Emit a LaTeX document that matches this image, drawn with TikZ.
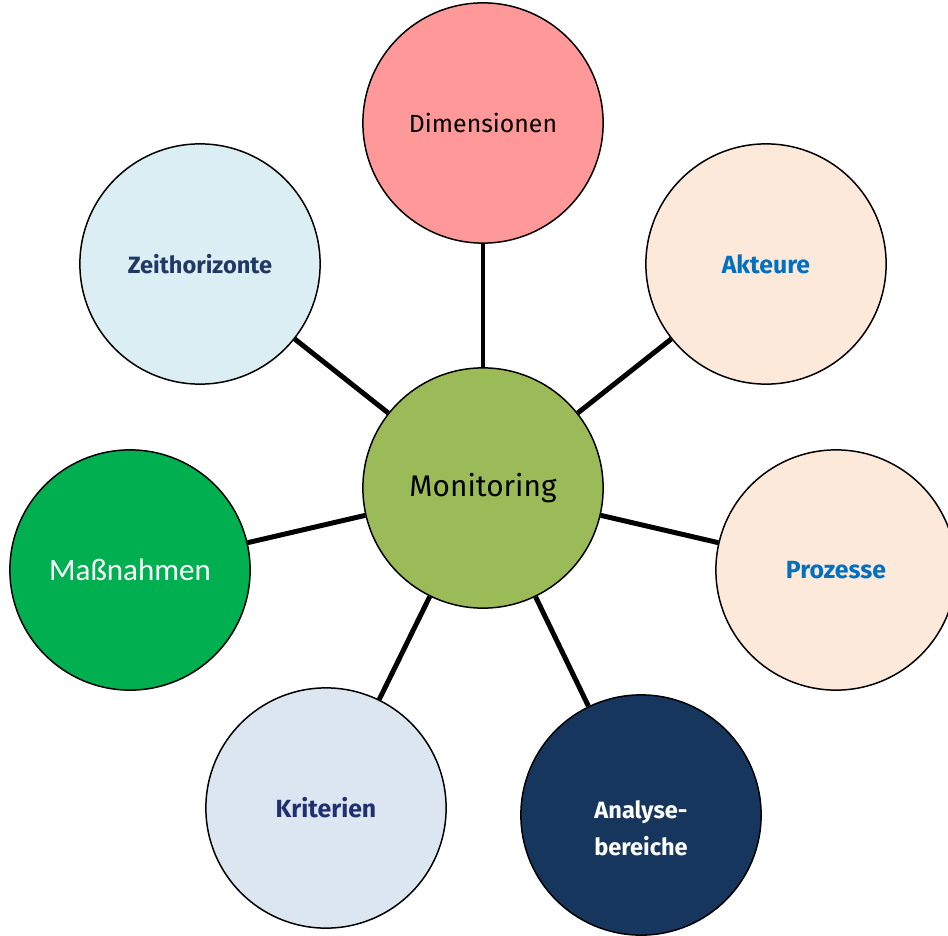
\documentclass[tikz,border=0pt]{standalone}
\usepackage{fontspec}
\setmainfont{Fira Sans}
\newfontfamily\calfont{Carlito}
\usepackage{tikz}

\definecolor{dimred}{HTML}{FF9999}
\definecolor{peach}{HTML}{FCE9DA}
\definecolor{akblue}{HTML}{0070C0}
\definecolor{navy}{HTML}{17365D}
\definecolor{krfill}{HTML}{DCE6F1}
\definecolor{krtext}{HTML}{1F3070}
\definecolor{zhfill}{HTML}{DAEEF3}
\definecolor{zhtext}{HTML}{1F3864}
\definecolor{mgreen}{HTML}{00B050}
\definecolor{olive}{HTML}{9BBB59}

\tikzset{
  topic/.style={circle, draw=black, line width=1.2pt, minimum size=6.8cm, inner sep=0pt, align=center, font=\fontsize{20}{24}\selectfont},
  spoke/.style={line width=4pt}
}

\begin{document}
\begin{tikzpicture}[x=0.0283cm, y=-0.0283cm]
        \useasboundingbox (0,0) rectangle (948,935);
        \node[topic, fill=olive, font=\fontsize{24}{28}\selectfont] (mon) at (483,488) {Monitoring};
        \node[topic, fill=dimred] (dim) at (483,123) {Dimensionen};
        \node[topic, fill=peach, text=akblue, font=\fontsize{20}{24}\selectfont\bfseries] (akt) at (766,264) {Akteure};
        \node[topic, fill=peach, text=akblue, font=\fontsize{20}{24}\selectfont\bfseries] (pro) at (836,570) {Prozesse};
        \node[topic, fill=navy, text=white, font=\fontsize{19}{30}\selectfont\bfseries] (ana) at (641,815) {\mbox{}\\[6pt]Analyse-\\bereiche};
        \node[topic, fill=krfill, text=krtext, font=\fontsize{20}{24}\selectfont\bfseries] (kri) at (326,808) {Kriterien};
        \node[topic, fill=mgreen, text=white, font=\fontsize{25}{30}\calfont] (mas) at (130,570) {Maßnahmen};
        \node[topic, fill=zhfill, text=zhtext, font=\fontsize{19}{24}\selectfont\bfseries] (zei) at (200,264) {Zeithorizonte};
        \foreach \n in {dim,akt,pro,ana,kri,mas,zei}
            \draw[spoke] (mon) -- (\n);
\end{tikzpicture}
\end{document}
